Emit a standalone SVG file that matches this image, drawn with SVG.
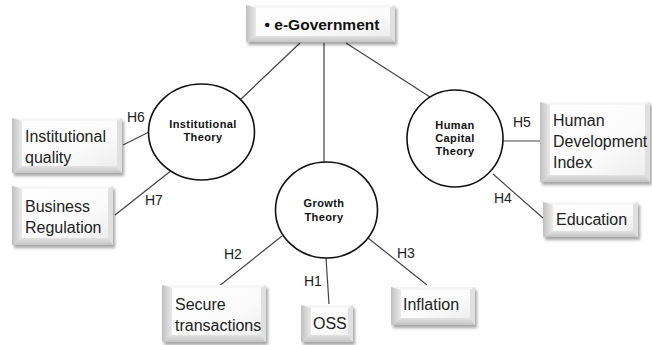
<svg xmlns="http://www.w3.org/2000/svg" width="652" height="345" viewBox="0 0 652 345">
<defs>
<filter id="sh" x="-20%" y="-20%" width="140%" height="150%">
<feGaussianBlur in="SourceAlpha" stdDeviation="1.5"/>
<feOffset dx="2" dy="3" result="b"/>
<feFlood flood-color="#000" flood-opacity="0.35"/>
<feComposite in2="b" operator="in"/>
<feMerge><feMergeNode/><feMergeNode in="SourceGraphic"/></feMerge>
</filter>
<linearGradient id="gl" x1="0" y1="0" x2="1" y2="0">
<stop offset="0" stop-color="#c0c0c0"/><stop offset="1" stop-color="#eaeaea"/>
</linearGradient>
<linearGradient id="gb" x1="0" y1="0" x2="0" y2="1">
<stop offset="0" stop-color="#e2e2e2"/><stop offset="1" stop-color="#c4c4c4"/>
</linearGradient>
<linearGradient id="gi" x1="0" y1="0" x2="1" y2="1">
<stop offset="0" stop-color="#ffffff"/><stop offset="0.6" stop-color="#fbfbfb"/><stop offset="1" stop-color="#eeeeee"/>
</linearGradient>
</defs>
<style>
.frame{fill:#e8e8e8;filter:url(#sh)}
.bl{fill:url(#gl)}
.bb{fill:url(#gb)}
.bt{fill:#f6f6f6}
.br{fill:#e0e0e0}
.in{fill:url(#gi)}
.lbl{font-family:"Liberation Sans",Arial,sans-serif;font-size:16px;fill:#222}
.h{font-family:"Liberation Sans",Arial,sans-serif;font-size:14px;fill:#222}
.ct{font-family:"Liberation Sans",Arial,sans-serif;font-size:11px;letter-spacing:0.4px;font-weight:bold;fill:#111;text-anchor:middle}
.eg{font-family:"Liberation Sans",Arial,sans-serif;font-size:15.5px;font-weight:bold;fill:#111;text-anchor:middle}
.circ{fill:#fff;stroke:#111;stroke-width:1.6}
.con line{stroke:#444;stroke-width:1.2}
</style>

<g id="connectors" class="con">
<line x1="300" y1="43" x2="240" y2="100"/>
<line x1="324" y1="43" x2="324" y2="162"/>
<line x1="346" y1="43" x2="430" y2="97"/>
<line x1="123" y1="145" x2="151" y2="131"/>
<line x1="115" y1="215" x2="172" y2="170"/>
<line x1="503" y1="141" x2="540" y2="141"/>
<line x1="493" y1="174" x2="543" y2="218"/>
<line x1="282" y1="236" x2="218" y2="287"/>
<line x1="326" y1="258" x2="329" y2="304"/>
<line x1="368" y1="238" x2="427" y2="285"/>
</g>

<g id="hlabels">
<text class="h" x="127" y="122">H6</text>
<text class="h" x="145" y="205">H7</text>
<text class="h" x="513" y="127">H5</text>
<text class="h" x="494" y="203">H4</text>
<text class="h" x="224" y="259">H2</text>
<text class="h" x="304" y="286">H1</text>
<text class="h" x="397" y="258">H3</text>
</g>

<g id="egov">
<rect class="frame" x="246" y="5" width="149" height="37"/>
<polygon class="bt" points="246,5 395,5 390,8 256,8"/>
<polygon class="bl" points="246,5 256,8 256,36 246,42"/>
<polygon class="bb" points="246,42 256,36 390,36 395,42"/>
<polygon class="br" points="395,5 390,8 390,36 395,42"/>
<rect class="in" x="256" y="8" width="134" height="28"/>
<text class="eg" x="322" y="30">• e-Government</text>
</g>

<g id="inst-theory">
<ellipse class="circ" cx="201.5" cy="132" rx="53" ry="48"/>
<text class="ct" x="203" y="128">Institutional</text>
<text class="ct" x="203" y="141">Theory</text>
</g>

<g id="human-theory">
<ellipse class="circ" cx="455" cy="138.5" rx="48" ry="48.5"/>
<text class="ct" x="455" y="129">Human</text>
<text class="ct" x="455" y="142">Capital</text>
<text class="ct" x="455" y="155">Theory</text>
</g>

<g id="growth-theory">
<ellipse class="circ" cx="326.5" cy="210" rx="51" ry="48"/>
<text class="ct" x="324" y="207">Growth</text>
<text class="ct" x="324" y="221">Theory</text>
</g>

<g id="inst-quality">
<rect class="frame" x="12" y="118" width="110" height="55"/>
<polygon class="bt" points="12,118 122,118 117,121 22,121"/>
<polygon class="bl" points="12,118 22,121 22,166 12,173"/>
<polygon class="bb" points="12,173 22,166 117,166 122,173"/>
<polygon class="br" points="122,118 117,121 117,166 122,173"/>
<rect class="in" x="22" y="121" width="95" height="45"/>
<text class="lbl" x="25" y="142">Institutional</text>
<text class="lbl" x="25" y="163">quality</text>
</g>

<g id="business-regulation">
<rect class="frame" x="12" y="186" width="101" height="59"/>
<polygon class="bt" points="12,186 113,186 108,189 22,189"/>
<polygon class="bl" points="12,186 22,189 22,238 12,245"/>
<polygon class="bb" points="12,245 22,238 108,238 113,245"/>
<polygon class="br" points="113,186 108,189 108,238 113,245"/>
<rect class="in" x="22" y="189" width="86" height="49"/>
<text class="lbl" x="25" y="212">Business</text>
<text class="lbl" x="25" y="233">Regulation</text>
</g>

<g id="hdi">
<rect class="frame" x="540" y="102" width="110" height="80"/>
<polygon class="bt" points="540,102 650,102 645,105 550,105"/>
<polygon class="bl" points="540,102 550,105 550,175 540,182"/>
<polygon class="bb" points="540,182 550,175 645,175 650,182"/>
<polygon class="br" points="650,102 645,105 645,175 650,182"/>
<rect class="in" x="550" y="105" width="95" height="70"/>
<text class="lbl" x="553" y="126">Human</text>
<text class="lbl" x="553" y="147">Development</text>
<text class="lbl" x="553" y="168">Index</text>
</g>

<g id="education">
<rect class="frame" x="543" y="202" width="95" height="35"/>
<polygon class="bt" points="543,202 638,202 633,205 553,205"/>
<polygon class="bl" points="543,202 553,205 553,231 543,237"/>
<polygon class="bb" points="543,237 553,231 633,231 638,237"/>
<polygon class="br" points="638,202 633,205 633,231 638,237"/>
<rect class="in" x="553" y="205" width="80" height="26"/>
<text class="lbl" x="556" y="225">Education</text>
</g>

<g id="secure-transactions">
<rect class="frame" x="162" y="285" width="104" height="57"/>
<polygon class="bt" points="162,285 266,285 261,288 172,288"/>
<polygon class="bl" points="162,285 172,288 172,335 162,342"/>
<polygon class="bb" points="162,342 172,335 261,335 266,342"/>
<polygon class="br" points="266,285 261,288 261,335 266,342"/>
<rect class="in" x="172" y="288" width="89" height="47"/>
<text class="lbl" x="175" y="310">Secure</text>
<text class="lbl" x="175" y="331">transactions</text>
</g>

<g id="oss">
<rect class="frame" x="301" y="305" width="52" height="37"/>
<polygon class="bt" points="301,305 353,305 348,308 311,308"/>
<polygon class="bl" points="301,305 311,308 311,335 301,342"/>
<polygon class="bb" points="301,342 311,335 348,335 353,342"/>
<polygon class="br" points="353,305 348,308 348,335 353,342"/>
<rect class="in" x="311" y="308" width="37" height="27"/>
<text class="lbl" x="313" y="329">OSS</text>
</g>

<g id="inflation">
<rect class="frame" x="391" y="287" width="84" height="38"/>
<polygon class="bt" points="391,287 475,287 470,290 401,290"/>
<polygon class="bl" points="391,287 401,290 401,318 391,325"/>
<polygon class="bb" points="391,325 401,318 470,318 475,325"/>
<polygon class="br" points="475,287 470,290 470,318 475,325"/>
<rect class="in" x="401" y="290" width="69" height="28"/>
<text class="lbl" x="403" y="310">Inflation</text>
</g>
</svg>
